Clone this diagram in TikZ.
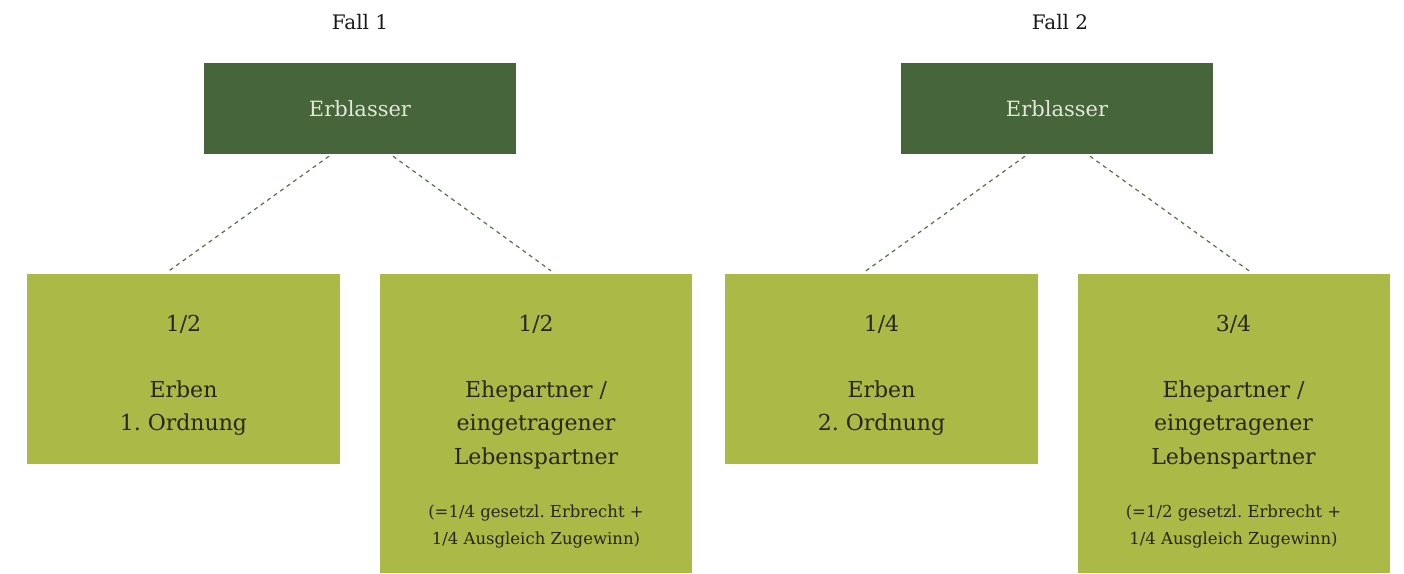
\documentclass[tikz,border=0pt]{standalone}
\usepackage{fontspec}
\setmainfont{DejaVu Serif}
\usetikzlibrary{calc}
\definecolor{darkgreen}{HTML}{46653A}
\definecolor{lightgreen}{HTML}{ABBA46}
\definecolor{txtdark}{HTML}{25261A}
\definecolor{txtlight}{HTML}{E3E7D9}
\definecolor{linegreen}{HTML}{56704A}
\begin{document}
\frenchspacing
\begin{tikzpicture}[x=1pt,y=-1pt,
  topbox/.style={fill=darkgreen,draw=none,minimum width=312pt,minimum height=91pt,inner sep=0pt,
    text=txtlight,font=\fontsize{21}{25}\selectfont},
  shortbox/.style={fill=lightgreen,draw=none,minimum width=313pt,minimum height=190pt,inner sep=0pt},
  tallbox/.style={fill=lightgreen,draw=none,minimum width=312pt,minimum height=299pt,inner sep=0pt},
  bigtxt/.style={anchor=base,inner sep=0pt,text=txtdark,font=\fontsize{22}{26}\selectfont},
  smalltxt/.style={anchor=base,inner sep=0pt,text=txtdark,font=\fontsize{16.5}{20}\selectfont},
  falltxt/.style={inner sep=0pt,text=black!90,font=\fontsize{20}{24}\selectfont},
  conn/.style={draw=linegreen,line width=1.2pt,dash pattern=on 4pt off 4pt}]
\useasboundingbox (0,0) rectangle (1404,573);

% headings
\node[falltxt] (f1) at (360,22) {Fall 1};
\node[falltxt] (f2) at (1060,22) {Fall 2};

% top boxes
\node[topbox] (E1) at (360,108.5) {Erblasser};
\node[topbox] (E2) at (1057,108.5) {Erblasser};

% lower boxes
\node[shortbox] (A) at (183.5,369) {};
\node[tallbox]  (B) at (536,423.5) {};
\node[shortbox] (C) at (881.5,369) {};
\node[tallbox]  (D) at (1233.5,423.5) {};

% texts box A
\node[bigtxt] (a1) at (183.5,331) {1/2};
\node[bigtxt] (a2) at (183.5,397) {Erben};
\node[bigtxt] (a3) at (183.5,430) {1. Ordnung};
% texts box B
\node[bigtxt] (b1) at (536,331) {1/2};
\node[bigtxt] (b2) at (536,397) {Ehepartner /};
\node[bigtxt] (b3) at (536,430) {eingetragener};
\node[bigtxt] (b4) at (536,464) {Lebenspartner};
\node[smalltxt] (b5) at (536,517) {(=1/4 gesetzl. Erbrecht +};
\node[smalltxt] (b6) at (536,544) {1/4 Ausgleich Zugewinn)};
% texts box C
\node[bigtxt] (c1) at (881.5,331) {1/4};
\node[bigtxt] (c2) at (881.5,397) {Erben};
\node[bigtxt] (c3) at (881.5,430) {2. Ordnung};
% texts box D
\node[bigtxt] (d1) at (1233.5,331) {3/4};
\node[bigtxt] (d2) at (1233.5,397) {Ehepartner /};
\node[bigtxt] (d3) at (1233.5,430) {eingetragener};
\node[bigtxt] (d4) at (1233.5,464) {Lebenspartner};
\node[smalltxt] (d5) at (1233.5,517) {(=1/2 gesetzl. Erbrecht +};
\node[smalltxt] (d6) at (1233.5,544) {1/4 Ausgleich Zugewinn)};

% connector end points
\coordinate (E1l) at ($(E1.south)+(-31,2)$);
\coordinate (E1r) at ($(E1.south)+(33,2)$);
\coordinate (E2l) at ($(E2.south)+(-32,2)$);
\coordinate (E2r) at ($(E2.south)+(33,2)$);
\coordinate (At) at ($(A.north)+(-14.5,-3)$);
\coordinate (Bt) at ($(B.north)+(15,-3)$);
\coordinate (Ct) at ($(C.north)+(-15.5,-3)$);
\coordinate (Dt) at ($(D.north)+(15.5,-3)$);

\draw[conn] (E1l) -- (At);
\draw[conn] (E1r) -- (Bt);
\draw[conn] (E2l) -- (Ct);
\draw[conn] (E2r) -- (Dt);
\end{tikzpicture}
\end{document}
